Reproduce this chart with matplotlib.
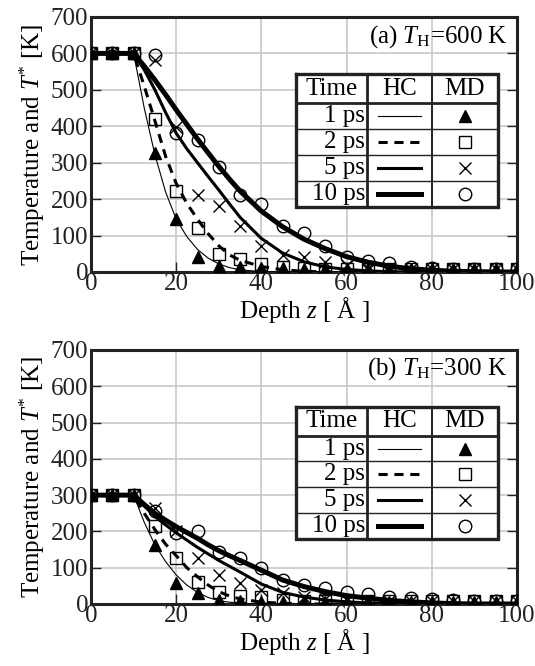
import numpy as np
import matplotlib
matplotlib.use("Agg")
import matplotlib.pyplot as plt

plt.rcParams['font.family'] = 'serif'
plt.rcParams['font.serif'] = ['Liberation Serif', 'DejaVu Serif']
plt.rcParams['mathtext.fontset'] = 'custom'
plt.rcParams['mathtext.rm'] = 'Liberation Serif'
plt.rcParams['mathtext.it'] = 'Liberation Serif:italic'

# ---- data ----
times = ['1 ps', '2 ps', '5 ps', '10 ps']

# MD points, every 5 A
z_md = [0, 5, 10, 15, 20, 25, 30, 35, 40, 45, 50, 55, 60, 65, 70, 75, 80, 85, 90, 95, 100]
md_a_1 = [600, 600, 600, 326, 145, 41, 16, 13, 12, 10, 9, 8, 8, 8, 8, 8, 8, 8, 8, 8, 8]
md_a_2 = [600, 600, 600, 419, 223, 121, 50, 37, 21, 14, 10, 9, 8, 8, 8, 8, 8, 8, 8, 8, 8]
md_a_5 = [600, 600, 600, 583, 399, 211, 180, 125, 71, 47, 42, 28, 19, 12, 10, 9, 8, 8, 8, 8, 8]
md_a_10 = [600, 600, 600, 596, 381, 361, 288, 210, 187, 125, 107, 72, 42, 30, 24, 15, 12, 9, 8, 8, 8]

md_b_1 = [300, 300, 300, 162, 57, 30, 10, 7, 6, 5, 5, 5, 5, 5, 5, 5, 5, 5, 5, 5, 5]
md_b_2 = [300, 300, 300, 214, 126, 61, 34, 23, 18, 12, 9, 8, 8, 8, 8, 8, 8, 8, 8, 8, 8]
md_b_5 = [300, 300, 300, 264, 200, 126, 79, 57, 39, 30, 20, 15, 10, 9, 8, 8, 8, 8, 8, 8, 8]
md_b_10 = [300, 300, 300, 255, 197, 200, 142, 126, 100, 66, 52, 43, 34, 27, 20, 16, 13, 10, 9, 8, 8]

# HC curves
z_hc = [0, 10, 12.5, 15, 17.5, 20, 22.5, 25, 27.5, 30, 32.5, 35, 40, 45, 50, 55, 60, 65, 70,
        75, 80, 85, 90, 95, 100]
hc_a_1 = [600, 600, 450, 322, 220, 145, 97, 62, 38, 22, 12, 6, 1, 0, 0, 0, 0, 0, 0,
          0, 0, 0, 0, 0, 0]
hc_a_2 = [600, 600, 510, 415, 318, 243, 188, 145, 105, 72, 47, 32, 15, 6, 2, 0, 0, 0, 0,
          0, 0, 0, 0, 0, 0]
hc_a_5 = [600, 600, 555, 500, 438, 381, 338, 300, 262, 225, 187, 150, 92, 52, 28, 14, 7, 3, 1,
          0, 0, 0, 0, 0, 0]
hc_a_10 = [600, 600, 565, 527, 487, 445, 405, 365, 327, 290, 255, 222, 167, 124, 90, 64, 42, 27, 16,
           9, 5, 2, 1, 0, 0]

hc_b_1 = [300, 300, 225, 163, 117, 80, 52, 32, 18, 9, 5, 2, 0, 0, 0, 0, 0, 0, 0,
          0, 0, 0, 0, 0, 0]
hc_b_2 = [300, 300, 250, 205, 165, 133, 100, 75, 52, 34, 22, 14, 5, 2, 0, 0, 0, 0, 0,
          0, 0, 0, 0, 0, 0]
hc_b_5 = [300, 300, 270, 241, 218, 196, 176, 156, 138, 120, 104, 88, 55, 32, 19, 11, 6, 3, 1,
          0, 0, 0, 0, 0, 0]
hc_b_10 = [300, 300, 274, 250, 231, 213, 197, 181, 163, 147, 133, 120, 93, 66, 48, 34, 23, 16, 10,
           6, 3, 1, 0, 0, 0]

panels = [
    ('(a) $T_{\\mathrm{H}}$=600 K', [hc_a_1, hc_a_2, hc_a_5, hc_a_10], [md_a_1, md_a_2, md_a_5, md_a_10]),
    ('(b) $T_{\\mathrm{H}}$=300 K', [hc_b_1, hc_b_2, hc_b_5, hc_b_10], [md_b_1, md_b_2, md_b_5, md_b_10]),
]

# styles per time
line_w = [0.8, 2.2, 2.2, 3.6]
line_ls = ['-', (0, (3, 2.2)), '-', '-']
mk = ['^', 's', 'x', 'o']
mk_fill = ['k', 'none', 'none', 'none']
mk_size = [8, 8, 8, 9]

fig = plt.figure(figsize=(5.35, 6.66), dpi=100)
rects = [[0.1701, 0.5916, 0.7963, 0.3829], [0.1701, 0.0931, 0.7963, 0.3814]]

for rect, (title, hcs, mds) in zip(rects, panels):
    ax = fig.add_axes(rect)
    ax.set_xlim(0, 100)
    ax.set_ylim(0, 700)
    ax.set_xticks(np.arange(0, 101, 20))
    ax.set_yticks(np.arange(0, 701, 100))
    ax.grid(True, color='#c4c4c4', lw=1.1)
    ax.set_axisbelow(True)
    for s in ax.spines.values():
        s.set_linewidth(2.2)
        s.set_color('#222222')
    ax.tick_params(direction='in', length=7, width=1, labelsize=18, pad=1,
                   right=True, top=False, colors='#222222')
    ax.tick_params(axis='y', pad=2)

    for i in range(4):
        ax.plot(z_hc, hcs[i], color='k', lw=line_w[i], ls=line_ls[i], zorder=3)
    for i in range(4):
        ax.plot(z_md, mds[i], ls='none', marker=mk[i], ms=mk_size[i], mfc=mk_fill[i],
                mec='k', mew=1.0, zorder=4, clip_on=True)

    ax.text(0.978, 0.925, title, transform=ax.transAxes, ha='right', va='center', fontsize=18)
    ax.set_ylabel('Temperature and $T^{*}$ [K]', fontsize=18, labelpad=3)
    ax.set_xlabel('Depth $z$ [ Å ]', fontsize=18, labelpad=0)

    # table legend
    tr = ax.transAxes
    xl, xc1, xc2, xr = 0.481, 0.648, 0.800, 0.955
    yt, yh = 0.776, 0.663
    rows = [0.663, 0.561, 0.459, 0.357, 0.255]
    ax.fill_between([xl, xr], [rows[-1]] * 2, [yt] * 2, color='white', transform=tr, zorder=5)
    box = dict(transform=tr, color='#222222', clip_on=False, zorder=6)
    ax.plot([xl, xr, xr, xl, xl], [yt, yt, rows[-1], rows[-1], yt], lw=2.4, solid_joinstyle='miter', **box)
    ax.plot([xl, xr], [yh, yh], lw=2.0, **box)
    for yy in rows[1:-1]:
        ax.plot([xl, xr], [yy, yy], lw=1.0, **box)
    ax.plot([xc1, xc1], [yt, rows[-1]], lw=2.0, **box)
    ax.plot([xc2, xc2], [yt, rows[-1]], lw=1.4, **box)

    hdr_y = (yt + yh) / 2
    ax.text((xl + xc1) / 2, hdr_y, 'Time', transform=tr, ha='center', va='center', fontsize=18, zorder=7)
    ax.text((xc1 + xc2) / 2, hdr_y, 'HC', transform=tr, ha='center', va='center', fontsize=18, zorder=7)
    ax.text((xc2 + xr) / 2, hdr_y, 'MD', transform=tr, ha='center', va='center', fontsize=18, zorder=7)
    for i, t in enumerate(times):
        ym = (rows[i] + rows[i + 1]) / 2
        ax.text(xc1 - 0.005, ym, t, transform=tr, ha='right', va='center', fontsize=18, zorder=7)
        ax.plot([xc1 + 0.025, xc2 - 0.025], [ym, ym], transform=tr, color='k', lw=line_w[i],
                ls=line_ls[i], clip_on=False, zorder=7)
        ax.plot([(xc2 + xr) / 2], [ym], transform=tr, ls='none', marker=mk[i], ms=mk_size[i],
                mfc=mk_fill[i], mec='k', mew=1.0, clip_on=False, zorder=7)

fig.savefig('out.png', dpi=100)
